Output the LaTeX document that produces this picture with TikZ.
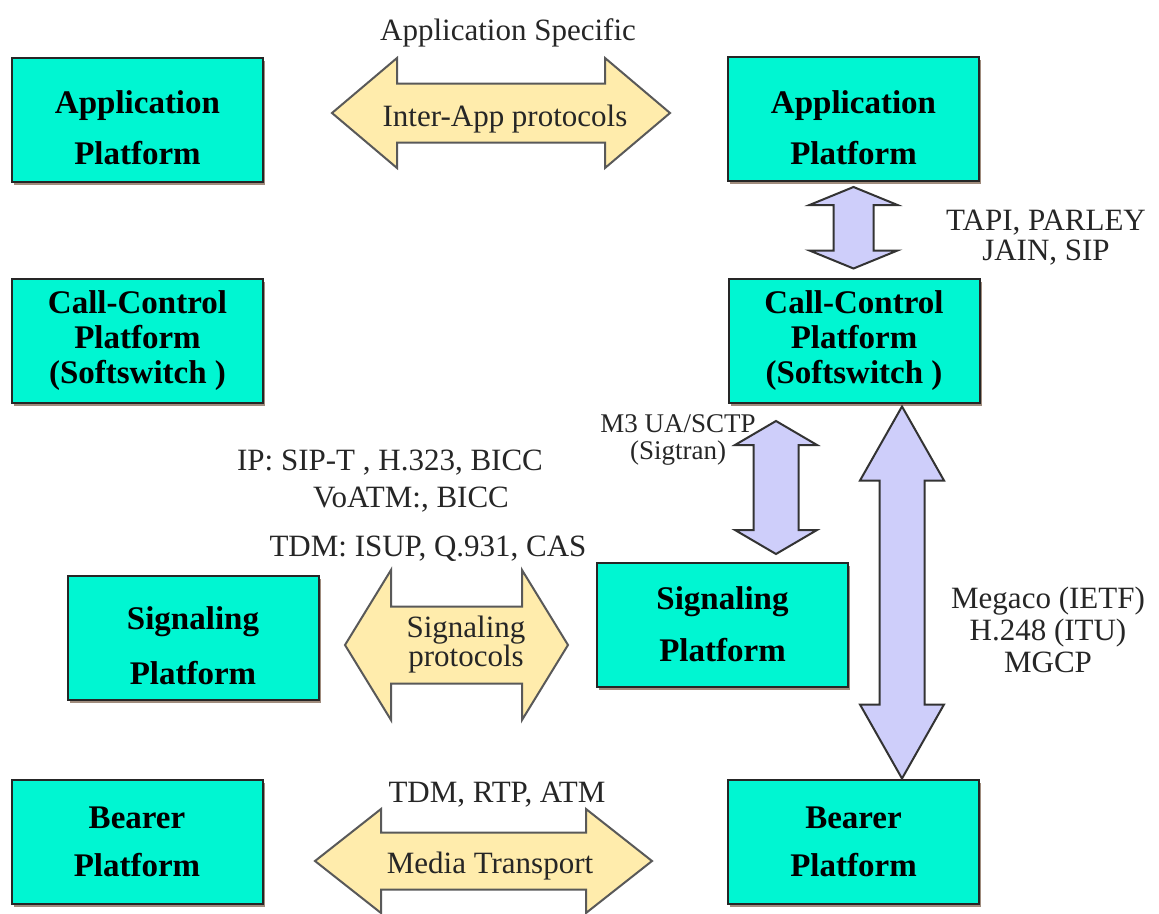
\documentclass[tikz,border=0pt]{standalone}
\usepackage{fontspec}
\setmainfont{Liberation Serif}
\usetikzlibrary{calc,shadows}

\definecolor{platfill}{RGB}{0,246,210}
\definecolor{lavfill}{RGB}{206,206,250}
\definecolor{creamfill}{RGB}{255,236,172}
\definecolor{shadowcol}{RGB}{160,140,125}

\tikzset{
  platform/.style={draw=black!85,line width=2pt,fill=platfill,
    minimum width=251pt,minimum height=124pt,align=center,
    font=\bfseries\fontsize{33}{35}\selectfont,
    drop shadow={shadow xshift=2pt,shadow yshift=-3pt,fill=shadowcol,opacity=1}},
  proto/.style={align=center,text=black!85,inner sep=0pt,
    font=\fontsize{31}{31}\selectfont},
  lavarrow/.style={draw=black!80,line width=2pt,fill=lavfill},
  creamarrow/.style={draw=black!65,line width=2pt,fill=creamfill}
}

% fat double arrows: start, end, shaft half, head half, head length
\newcommand{\vfat}[5]{\draw[lavarrow] let \p1=#1, \p2=#2 in
  (\x1,\y1) -- (\x1+#4pt,\y1-#5pt) -- (\x1+#3pt,\y1-#5pt) -- (\x1+#3pt,\y2+#5pt)
  -- (\x1+#4pt,\y2+#5pt) -- (\x1,\y2) -- (\x1-#4pt,\y2+#5pt) -- (\x1-#3pt,\y2+#5pt)
  -- (\x1-#3pt,\y1-#5pt) -- (\x1-#4pt,\y1-#5pt) -- cycle;}
\newcommand{\hfat}[5]{\draw[creamarrow] let \p1=#1, \p2=#2 in
  (\x1,\y1) -- (\x1+#5pt,\y1+#4pt) -- (\x1+#5pt,\y1+#3pt) -- (\x2-#5pt,\y1+#3pt)
  -- (\x2-#5pt,\y1+#4pt) -- (\x2,\y1) -- (\x2-#5pt,\y1-#4pt) -- (\x2-#5pt,\y1-#3pt)
  -- (\x1+#5pt,\y1-#3pt) -- (\x1+#5pt,\y1-#4pt) -- cycle;}

\begin{document}
\begin{tikzpicture}[x=1pt,y=-1pt]
  \fill[white] (0,0) rectangle (1159,913);
  \useasboundingbox (0,0) rectangle (1159,913);

  % platforms
  \foreach \nm/\px/\py/\txt in {
      appL/137.5/119.5/{\\[5pt]Application\\[16pt]Platform},
      appR/853.5/119/{\\[5pt]Application\\[16pt]Platform},
      ccL/137.5/341/{Call-Control\\Platform\\(Softswitch )},
      ccR/854/340.5/{Call-Control\\Platform\\(Softswitch )},
      sigL/193/637.5/{\\[5pt]Signaling\\[20pt]Platform},
      sigR/722.5/624.5/{Signaling\\[17pt]Platform},
      bearL/137/841.5/{Bearer\\[13pt]Platform},
      bearR/853.5/841.5/{Bearer\\[13pt]Platform}}
    \node[platform] (\nm) at (\px,\py) {\txt};

  % vertical interfaces
  \vfat{([yshift=-5pt]appR.south)}{([yshift=9pt]ccR.north)}{20}{44}{18}
  \vfat{([xshift=-78pt,yshift=-17.5pt]ccR.south)}{([yshift=7.5pt]sigR.north)}{22.5}{41}{24}
  \vfat{([xshift=48pt,yshift=-3pt]ccR.south)}{(bearR.north)}{22.5}{42}{74}

  % peer protocols
  \coordinate (iaL) at (332,113);  \coordinate (iaR) at (670,113);
  \coordinate (spL) at (345,645);  \coordinate (spR) at (568,645);
  \coordinate (mtL) at (315,861);  \coordinate (mtR) at (652,861);
  \hfat{(iaL)}{(iaR)}{29.5}{55}{65}
  \hfat{(spL)}{(spR)}{38.5}{75}{46}
  \hfat{(mtL)}{(mtR)}{28.5}{52}{66}
  \node[proto] (interapp) at (505,119) {Inter-App protocols};
  \node[proto,font=\fontsize{31}{29}\selectfont] (sigproto) at (466,645) {Signaling\\protocols};
  \node[proto] (mediatx) at (490,866) {Media Transport};

  % labels
  \node[proto] (appspec) at (508,33) {Application Specific};
  \node[proto,font=\fontsize{31}{30}\selectfont] (tapi) at (1046,238) {TAPI, PARLEY\\JAIN, SIP};
  \node[proto,font=\fontsize{27}{27}\selectfont] (m3ua) at (678,440) {M3 UA/SCTP\\(Sigtran)};
  \node[proto] (ipsig) at (390,463) {IP: SIP-T , H.323, BICC};
  \node[proto] (voatm) at (411,500) {VoATM:, BICC};
  \node[proto] (tdmsig) at (428,549) {TDM: ISUP, Q.931, CAS};
  \node[proto,font=\fontsize{31}{32}\selectfont] (megaco) at (1048,630) {Megaco (IETF)\\H.248 (ITU)\\MGCP};
  \node[proto] (media) at (497,795) {TDM, RTP, ATM};
\end{tikzpicture}
\end{document}
